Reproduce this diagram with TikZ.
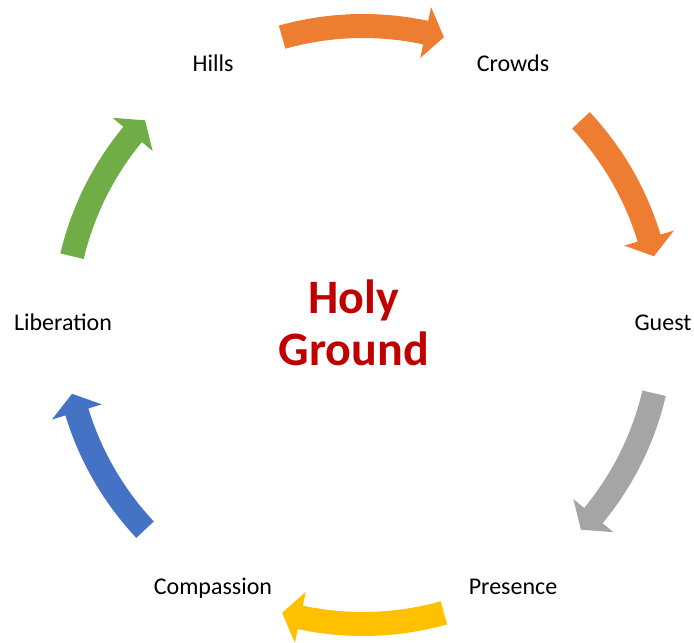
\documentclass[tikz,border=0pt]{standalone}
\usepackage{fontspec}
\setmainfont{Carlito}
\definecolor{corange}{HTML}{ED7D31}
\definecolor{cgray}{HTML}{A5A5A5}
\definecolor{cyellow}{HTML}{FFC000}
\definecolor{cblue}{HTML}{4472C4}
\definecolor{cgreen}{HTML}{70AD47}
\definecolor{cred}{HTML}{C00000}
% color, tail angle, tip angle
\newcommand\cycarrow[3]{%
  \fill[#1] (#2:311) arc[start angle=#2, end angle={#3+3.6}, radius=311]
    -- ({#3+3.6}:325) -- (#3:299) -- ({#3+3.6}:273) -- ({#3+3.6}:287)
    arc[start angle={#3+3.6}, end angle=#2, radius=287] -- cycle;}
\begin{document}
\begin{tikzpicture}[x=0.5pt,y=0.5pt,
  lbl/.style={font=\fontsize{12}{14}\selectfont, inner sep=0pt, anchor=base},
  title/.style={font=\bfseries\fontsize{24}{26}\selectfont, text=cred, inner sep=0pt, anchor=base}]
\useasboundingbox (-363,-317) rectangle (331,325);
\node[lbl] (hills) at (-150,253) {Hills};
\node[lbl] (crowds) at (150,253) {Crowds};
\node[lbl] (guest) at (300,-5) {Guest};
\node[lbl] (presence) at (150,-269) {Presence};
\node[lbl] (compassion) at (-150,-269) {Compassion};
\node[lbl] (liberation) at (-300,-5) {Liberation};
\node[title] (holy) at (-9,12) {Holy};
\node[title] (ground) at (-9,-40) {Ground};
\cycarrow{corange}{105.7}{74.3}
\cycarrow{corange}{43.2}{13.3}
\cycarrow{cgray}{-13.2}{-43.2}
\cycarrow{cyellow}{-74.3}{-105.7}
\cycarrow{cblue}{223.2}{193.3}
\cycarrow{cgreen}{166.7}{136.8}
\end{tikzpicture}
\end{document}
